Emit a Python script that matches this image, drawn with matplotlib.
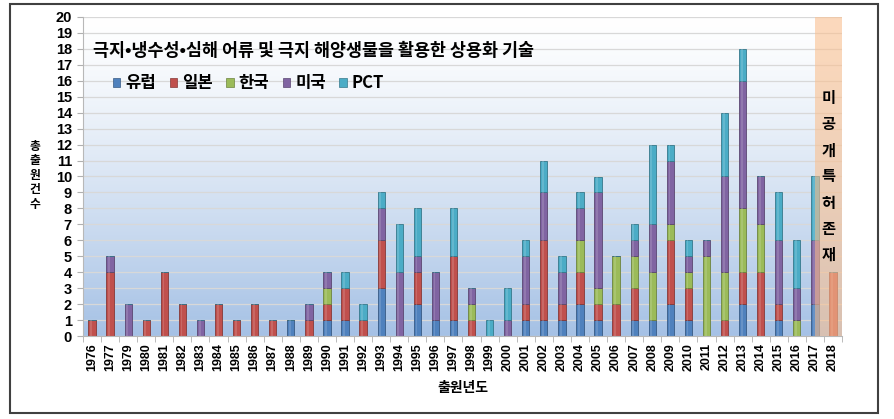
import numpy as np
import matplotlib
matplotlib.use("Agg")
import matplotlib.pyplot as plt
from matplotlib.patches import Rectangle, Patch
import matplotlib.colors as mcolors

plt.rcParams['font.family'] = ['Noto Sans CJK KR', 'DejaVu Sans']

years = ['1976', '1977', '1979', '1980', '1981', '1982', '1983', '1984', '1985', '1986',
         '1987', '1988', '1989', '1990', '1991', '1992', '1993', '1994', '1995', '1996',
         '1997', '1998', '1999', '2000', '2001', '2002', '2003', '2004', '2005', '2006',
         '2007', '2008', '2009', '2010', '2011', '2012', '2013', '2014', '2015', '2016',
         '2017', '2018']
europe = [0, 0, 0, 0, 0, 0, 0, 0, 0, 0, 0, 1, 0, 1, 1, 0, 3, 0, 2, 1,
          1, 0, 0, 0, 1, 1, 1, 2, 1, 0, 1, 1, 2, 1, 0, 0, 2, 0, 1, 0, 2, 0]
japan = [1, 4, 0, 1, 4, 2, 0, 2, 1, 2, 1, 0, 1, 1, 2, 1, 3, 0, 2, 0,
         4, 1, 0, 0, 1, 5, 1, 2, 1, 2, 2, 0, 4, 2, 0, 1, 2, 4, 1, 0, 0, 4]
korea = [0, 0, 0, 0, 0, 0, 0, 0, 0, 0, 0, 0, 0, 1, 0, 0, 0, 0, 0, 0,
         0, 1, 0, 0, 0, 0, 0, 2, 1, 3, 2, 3, 1, 1, 5, 3, 4, 3, 0, 1, 0, 0]
usa = [0, 1, 2, 0, 0, 0, 1, 0, 0, 0, 0, 0, 1, 1, 0, 0, 2, 4, 1, 3,
       0, 1, 0, 1, 3, 3, 2, 2, 6, 0, 1, 3, 4, 1, 1, 6, 8, 3, 4, 2, 4, 0]
pct = [0, 0, 0, 0, 0, 0, 0, 0, 0, 0, 0, 0, 0, 0, 1, 1, 1, 3, 3, 0,
       3, 0, 1, 2, 1, 2, 1, 1, 1, 0, 1, 5, 1, 1, 0, 4, 2, 0, 3, 3, 4, 0]

series_names = ['유럽', '일본', '한국', '미국', 'PCT']
series_values = [europe, japan, korea, usa, pct]
series_colors = ['#4f81bd', '#c0504d', '#9bbb59', '#8064a2', '#4bacc6']

title = '극지•냉수성•심해 어류 및 극지 해양생물을 활용한 상용화 기술'
ylabel = '총\n출\n원\n건\n수'
xlabel = '출원년도'
note = '미\n공\n개\n특\n허\n존\n재'

W, H = 895, 419
fig = plt.figure(figsize=(W / 100, H / 100), dpi=100)
fig.patch.set_facecolor('white')

left, right, bottom, top = 83, 842, 336, 17
ax = fig.add_axes([left / W, 1 - bottom / H, (right - left) / W, (bottom - top) / H])

# background gradient
n = 256
t = np.linspace(0, 1, n)[:, None]  # 0 top -> 1 bottom
tt = t ** 1.3
topc = np.array([1.0, 1.0, 1.0])
botc = np.array([165, 193, 229]) / 255
grad = (1 - tt)[..., None] * topc + tt[..., None] * botc
grad = np.repeat(grad, 2, axis=1)
ax.imshow(grad, extent=[0, 1, 0, 1], transform=ax.transAxes, aspect='auto', zorder=0)

x = np.arange(len(years))
bw = 0.4
base = np.zeros(len(years))
for name, vals, col in zip(series_names, series_values, series_colors):
    v = np.array(vals, dtype=float)
    dark = np.array(mcolors.to_rgb(col)) * 0.7
    ax.bar(x, v, bw, bottom=base, color=col, edgecolor=dark, linewidth=0.6, zorder=2)
    # highlight stripe for a cylindrical look
    light = 1 - (1 - np.array(mcolors.to_rgb(col))) * 0.6
    ax.bar(x - bw * 0.12, v, bw * 0.25, bottom=base, color=light,
           linewidth=0, alpha=0.35, zorder=2.1)
    base = base + v

ax.set_xlim(-0.5, len(years) - 0.5)
ax.set_ylim(0, 20)
ax.set_yticks(np.arange(0, 21, 1))
ax.yaxis.grid(True, color='#d8d8d8', linewidth=0.9, zorder=1)
ax.set_axisbelow(True)

ax.set_xticks(x)
ax.set_xticklabels(years, rotation=90, fontsize=9, fontweight='bold',
                   family=['Liberation Sans', 'DejaVu Sans'])
ax.set_xticks(np.arange(-0.5, len(years), 1), minor=True)
ax.tick_params(axis='x', which='major', length=0, pad=5)
ax.tick_params(axis='x', which='minor', length=4, color='#b0b0b0')
ax.tick_params(axis='y', length=4, color='#b0b0b0', pad=4)
for lab in ax.get_yticklabels():
    lab.set_fontweight('bold')
    lab.set_fontsize(10.5)
    lab.set_family(['Liberation Sans', 'DejaVu Sans'])

for s in ['top', 'right']:
    ax.spines[s].set_visible(False)
for s in ['left', 'bottom']:
    ax.spines[s].set_color('#b8b8b8')
    ax.spines[s].set_linewidth(0.8)

# unpublished patents region
ax.add_patch(Rectangle((len(years) - 2, 0), 1.5, 20, facecolor='#fac090', alpha=0.6,
                       edgecolor='none', zorder=3))
ax.text(len(years) - 1.25, 10, note, ha='center', va='center', fontsize=11,
        fontweight='bold', linespacing=1.78, zorder=4)

ax.text(0.013, 17.87, title, transform=ax.get_yaxis_transform(), ha='left', va='center',
        fontsize=12.5, fontweight='bold', zorder=4)

handles = [Patch(facecolor=c, edgecolor=np.array(mcolors.to_rgb(c)) * 0.7, linewidth=0.5)
           for c in series_colors]
leg = ax.legend(handles, series_names, ncol=5, frameon=False, loc='center left',
                bbox_to_anchor=(0.0395, 15.86 / 20), handlelength=0.45, handleheight=0.45,
                handletextpad=0.3, columnspacing=0.8, borderaxespad=0, borderpad=0,
                prop={'weight': 'bold', 'size': 12,
                      'family': ['Noto Sans CJK KR', 'DejaVu Sans']})
leg.set_zorder(4)

fig.text(35 / W, 1 - 175 / H, ylabel, ha='center', va='center', fontsize=8.5,
         fontweight='bold', linespacing=1.15)
fig.text((left + right) / 2 / W, 1 - 388 / H, xlabel, ha='center', va='center',
         fontsize=10, fontweight='bold')

fig.patches.append(Rectangle((10 / W, 1 - 413 / H), 868 / W, 409 / H, transform=fig.transFigure,
                             fill=False, edgecolor='#404040', linewidth=1.5))

fig.savefig('out.png', dpi=100)
